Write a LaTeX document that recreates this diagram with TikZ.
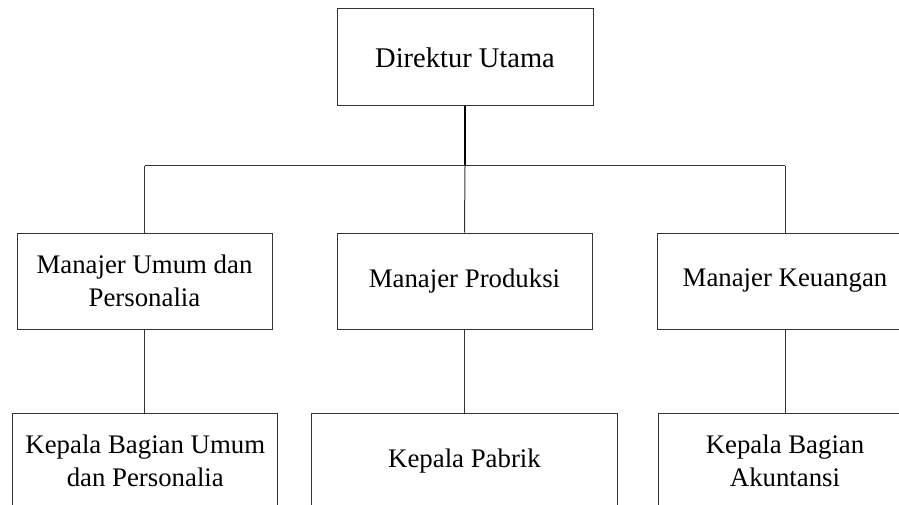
\documentclass[tikz,border=0pt]{standalone}
\usepackage{fontspec}
\setmainfont{Liberation Serif}
\begin{document}
\begin{tikzpicture}[x=1pt,y=-1pt,
  orgbox/.style={draw=black!80, line width=1pt, rectangle, align=center, inner sep=0pt,
    font=\fontsize{26.8}{33.3}\selectfont},
  topbox/.style={orgbox, font=\fontsize{28.5}{34}\selectfont},
  conn/.style={draw=black!80, line width=1pt},
  trunk/.style={draw=black, line width=2pt}]
\clip (0,0) rectangle (899,505);
\node[topbox, minimum width=256pt, minimum height=97pt] (dir) at (465,57.5) {Direktur Utama};
\node[orgbox, minimum width=255pt, minimum height=96pt] (m1) at (144.5,281) {Manajer Umum dan\\Personalia};
\node[orgbox, minimum width=255pt, minimum height=96pt] (m2) at (464.5,281) {Manajer Produksi};
\node[orgbox, minimum width=256pt, minimum height=96pt] (m3) at (785,281) {Manajer Keuangan};
\node[orgbox, minimum width=265pt, minimum height=96pt] (b1) at (145.3,461) {Kepala Bagian Umum\\dan Personalia};
\node[orgbox, minimum width=306pt, minimum height=96pt] (b2) at (464.5,461) {Kepala Pabrik};
\node[orgbox, minimum width=254pt, minimum height=96pt] (b3) at (785,461) {Kepala Bagian\\Akuntansi};
\coordinate (j) at (465,166);
\coordinate (jl) at (144.5,166);
\coordinate (jr) at (785,166);
\draw[trunk] (dir.south) -- (j);
\draw[conn] (jl) -- (jr);
\draw[conn] (jl) -- (m1.north);
\draw[conn] (j) -- (m2.north);
\draw[conn] (jr) -- (m3.north);
\draw[conn] (m1.south) -- (b1.north -| m1.south);
\draw[conn] (m2.south) -- (b2.north -| m2.south);
\draw[conn] (m3.south) -- (b3.north -| m3.south);
\end{tikzpicture}
\end{document}
